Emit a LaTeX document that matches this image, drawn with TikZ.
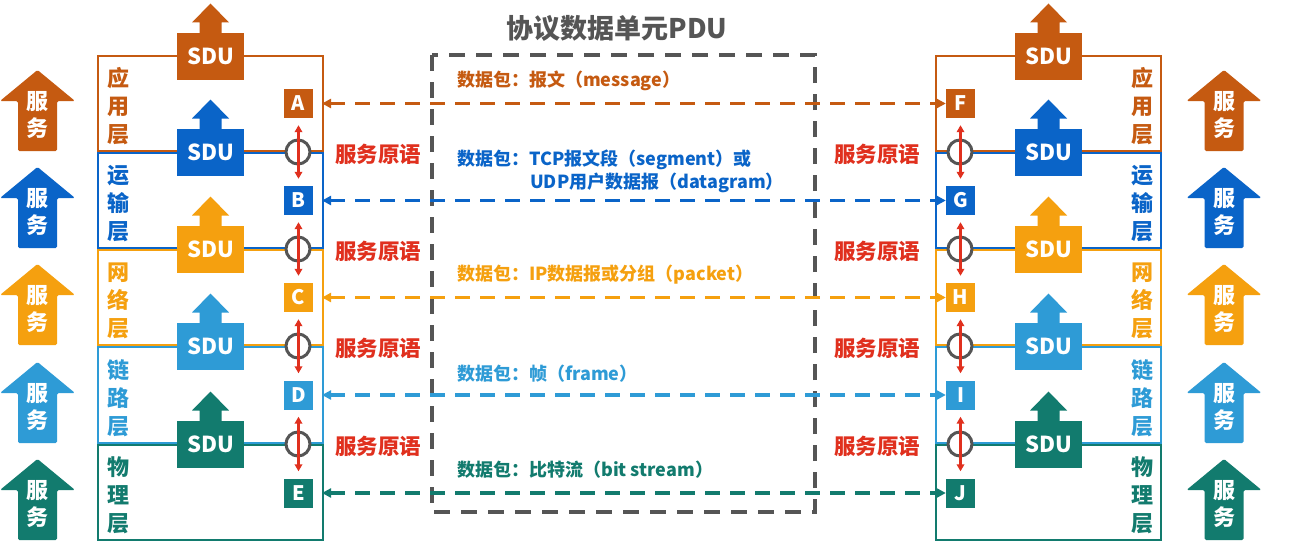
\documentclass[tikz,border=0pt]{standalone}
\usepackage{fontspec}
\setmainfont{Noto Sans CJK SC}
\usetikzlibrary{arrows.meta}
\definecolor{capp}{HTML}{C55A11}
\definecolor{ctra}{HTML}{0A64C8}
\definecolor{cnet}{HTML}{F5A00F}
\definecolor{clnk}{HTML}{2E9BD6}
\definecolor{cphy}{HTML}{127B6E}
\definecolor{cred}{HTML}{E0301E}
\definecolor{cgray}{HTML}{555555}
\tikzset{
  layerbox/.style={draw=#1, line width=2.8pt},
  sdubox/.style={fill=#1, text=white, font=\fontsize{22}{22}\selectfont\bfseries, minimum width=67pt, minimum height=47pt, inner sep=0pt},
  letterbox/.style={fill=#1, text=white, font=\fontsize{20}{20}\selectfont\bfseries, minimum size=29pt, inner sep=0pt},
  sap/.style={circle, draw=cgray, line width=3pt, fill=white, minimum size=24pt, inner sep=0pt},
  redarr/.style={draw=cred, line width=2.2pt, {Triangle[length=7pt,width=7.5pt]}-{Triangle[length=7pt,width=7.5pt]}},
  prim/.style={text=cred, font=\fontsize{21.5}{21.5}\selectfont\bfseries, inner sep=0pt},
  pkt/.style={text=#1, anchor=west, font=\fontsize{18}{18}\selectfont\bfseries, inner sep=0pt},
  laylabel/.style={text=#1, align=center, font=\fontsize{22}{28}\selectfont\bfseries, inner sep=0pt},
  svctext/.style={text=white, align=center, font=\fontsize{22}{27}\selectfont\bfseries, inner sep=0pt},
  plink/.style={draw=#1, line width=3.2pt, dash pattern=on 15pt off 10pt, {Triangle[length=9pt,width=9pt]}-{Triangle[length=9pt,width=9pt]}},
  pdubox/.style={draw=cgray, line width=3.4pt, dash pattern=on 16pt off 11pt},
  titlestyle/.style={text=cgray, font=\fontsize{27}{27}\selectfont\bfseries, inner sep=0pt}
}
\begin{document}
\begin{tikzpicture}[x=1pt,y=-1pt]
\useasboundingbox[fill=white] (0,0) rectangle (1300,551);
\coordinate (Lr) at (322,0);
% title
\node[titlestyle] (title) at (617,28) {协议数据单元PDU};
% layer boxes, service arrows, labels
\foreach \c/\t/\b/\L/\R/\p/\q/\r in {capp/56/151/A/F/应/用/层, ctra/153/248/B/G/运/输/层, cnet/250/345/C/H/网/络/层, clnk/347/443/D/I/链/路/层, cphy/445/540/E/J/物/理/层}{
  \pgfmathsetmacro\mid{(\t+\b)/2}
  \draw[layerbox=\c] (98,\t) rectangle (323,\b);
  \draw[layerbox=\c] (936,\t) rectangle (1161,\b);
  \node[laylabel=\c] (lay\L) at (118,\mid+3) {\p\\\q\\\r};
  \node[laylabel=\c] (lay\R) at (1142,\mid+3) {\p\\\q\\\r};
  % service arrows
  \foreach \cx/\nm in {37.5/\L, 1224/\R}{
    \fill[\c, rounded corners=1.5pt] ({\cx-19.5},\b) -- ({\cx-19.5},{\b-50}) -- ({\cx-37.5},{\b-50}) -- (\cx,{\b-81}) -- ({\cx+37.5},{\b-50}) -- ({\cx+19.5},{\b-50}) -- ({\cx+19.5},\b) -- cycle;
    \node[svctext] (svc\nm) at (\cx,{\b-36}) {服\\务};
  }
}
% SDU arrows
\foreach \c/\t/\L/\R in {capp/56/A/F, ctra/152/B/G, cnet/249/C/H, clnk/346/D/I, cphy/444/E/J}{
  \foreach \cx/\nm in {210.5/\L, 1048.5/\R}{
    \fill[\c] ({\cx-11},{\t-23}) -- ({\cx-11},{\t-33.5}) -- ({\cx-18.5},{\t-33.5}) -- (\cx,{\t-52.5}) -- ({\cx+18.5},{\t-33.5}) -- ({\cx+11},{\t-33.5}) -- ({\cx+11},{\t-23}) -- cycle;
    \node[sdubox=\c] (sdu\nm) at (\cx,\t+0.5) {SDU};
  }
}
% letter boxes
\foreach \c/\y/\L/\R in {capp/103.5/A/F, ctra/200.5/B/G, cnet/297.5/C/H, clnk/395/D/I, cphy/493/E/J}{
  \node[letterbox=\c] (\L) at (298.5,\y) {\L};
  \node[letterbox=\c] (\R) at (960.5,\y) {\R};
}
% SAPs and primitives
\foreach \y/\u/\v/\s/\w in {152/A/B/F/G, 249/B/C/G/H, 346/C/D/H/I, 444/D/E/I/J}{
  \node[sap] (sap\u) at (298,\y) {};
  \node[sap] (sap\s) at (960,\y) {};
  \draw[redarr] ([yshift=-7pt]\u.south) -- ([yshift=7pt]\v.north);
  \draw[redarr] ([yshift=-7pt]\s.south) -- ([yshift=7pt]\w.north);
  \node[prim] (primL\u) at (378,\y+2) {服务原语};
  \node[prim] (primR\s) at (877,\y+2) {服务原语};
}
% PDU box
\draw[pdubox] (432,55) rectangle (815,512);
% peer links
\foreach \c/\L/\R in {capp/A/F, ctra/B/G, cnet/C/H, clnk/D/I, cphy/E/J}{
  \draw[plink=\c] (\L -| Lr) -- (\R.west);
}
% packet labels
\node[pkt=capp] (p1) at (457,81) {数据包：报文（message）};
\node[pkt=ctra] (p2a) at (457,160) {数据包：TCP报文段（segment）或};
\node[pkt=ctra] (p2b) at (530,183) {UDP用户数据报（datagram）};
\node[pkt=cnet] (p3) at (457,275) {数据包：IP数据报或分组（packet）};
\node[pkt=clnk] (p4) at (457,374) {数据包：帧（frame）};
\node[pkt=cphy] (p5) at (457,470) {数据包：比特流（bit stream）};
\end{tikzpicture}
\end{document}
